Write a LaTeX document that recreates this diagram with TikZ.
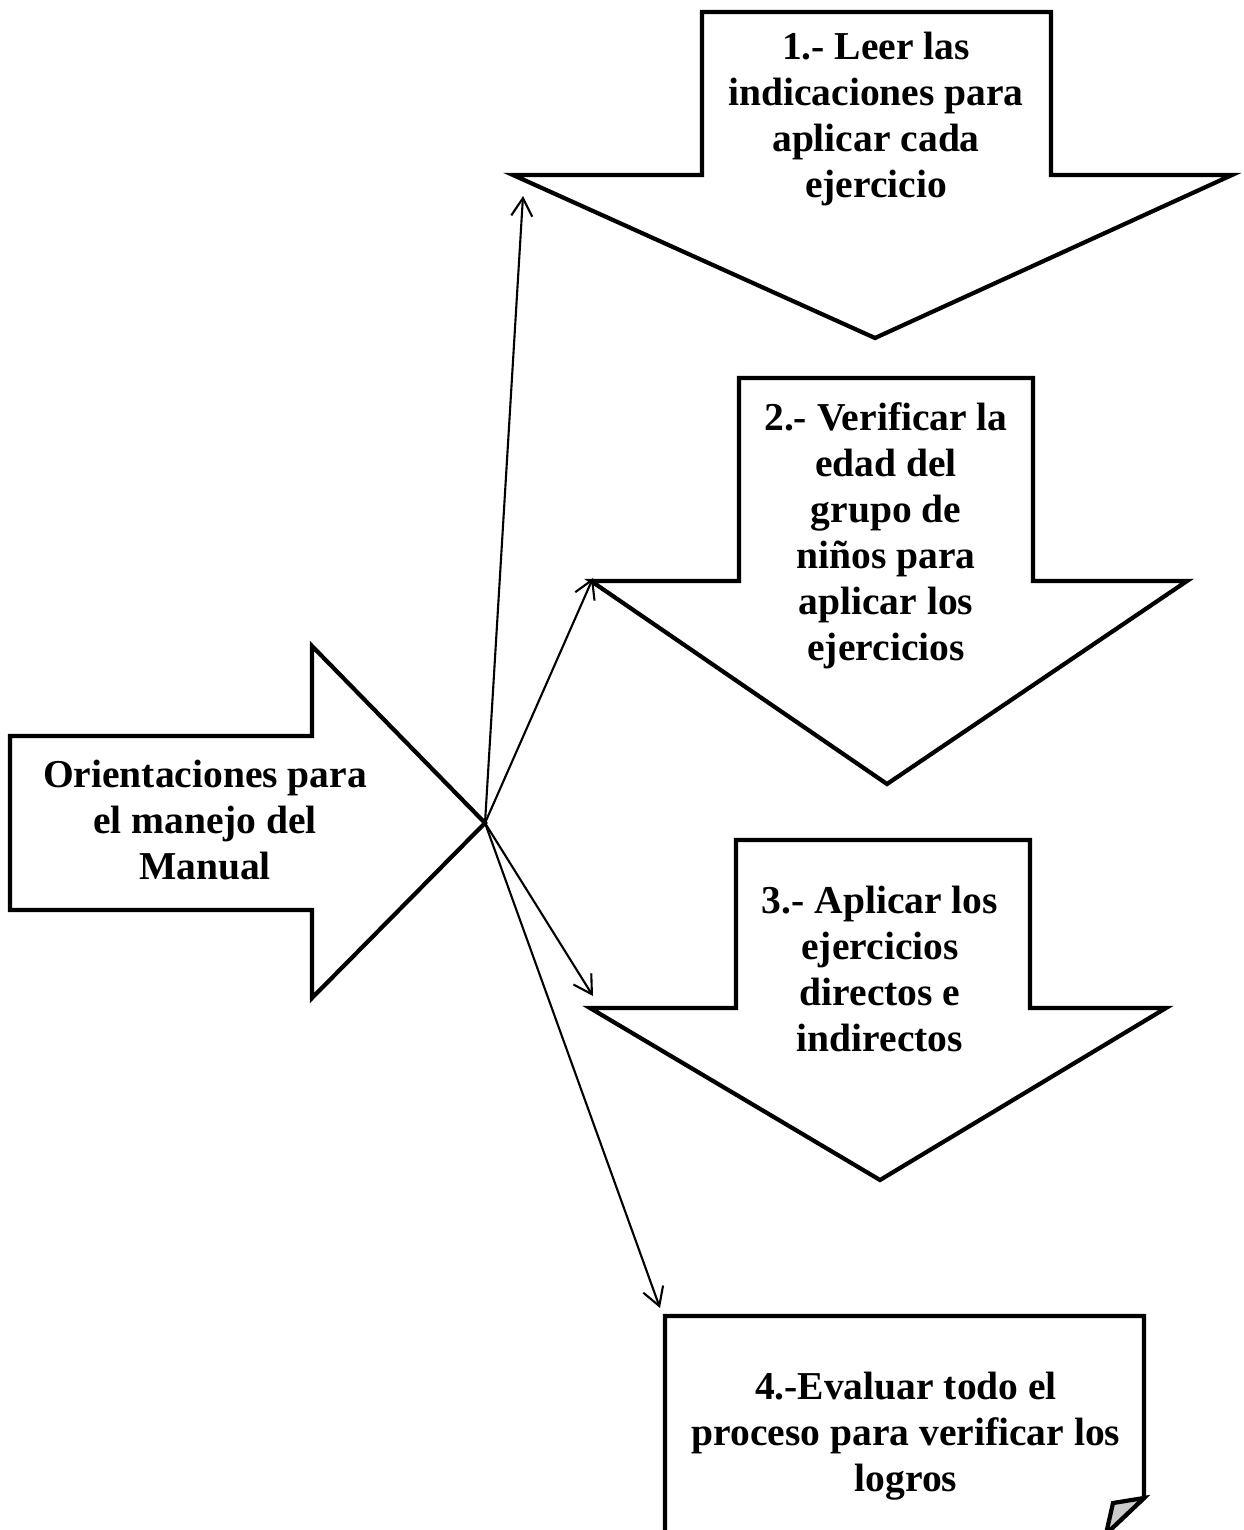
\documentclass[tikz,border=0pt]{standalone}
\usepackage{fontspec}
\setmainfont{Liberation Serif}
\usetikzlibrary{arrows.meta}
\tikzset{
  outline/.style={line width=2.4pt, line join=miter},
  label/.style={align=center, inner sep=0pt, font=\bfseries\fontsize{22.5pt}{26.2pt}\selectfont},
  conn/.style={line width=1.2pt, -{Straight Barb[length=0.36cm, width=0.42cm, line width=1.2pt]}}
}
\begin{document}
\begin{tikzpicture}[x=0.02cm, y=-0.02cm]
\clip (0,0) rectangle (1243,1530);
\fill[white] (0,0) rectangle (1243,1530);
% arrow 1 (down)
\draw[outline] (702,12) -- (1051,12) -- (1051,175) -- (1232,175) -- (875,338) -- (513,175) -- (702,175) -- cycle;
% arrow 2 (down)
\draw[outline] (739,378) -- (1033,378) -- (1033,581) -- (1187,581) -- (887,784) -- (591,581) -- (739,581) -- cycle;
% arrow 3 (down)
\draw[outline] (736,840) -- (1030,840) -- (1030,1008) -- (1166,1008) -- (880,1180) -- (590,1008) -- (736,1008) -- cycle;
% main arrow (right)
\draw[outline] (10,736) -- (312,736) -- (312,646) -- (485,823) -- (312,998) -- (312,910) -- (10,910) -- cycle;
% document with folded corner
\draw[outline] (665,1560) -- (665,1316) -- (1144,1316) -- (1144,1498) -- (1106,1534) -- (1080,1560);
\draw[outline, fill=black!20] (1113,1503) -- (1144,1498) -- (1106,1534) -- cycle;
% texts
\node[label] (t1) at (876,119) {1.- Leer las\\indicaciones para\\aplicar cada\\ejercicio};
\node[label] (t2) at (886,536) {2.- Verificar la\\edad del\\grupo de\\niños para\\aplicar los\\ejercicios};
\node[label] (t3) at (880,969) {3.- Aplicar los\\ejercicios\\directos e\\indirectos};
\node[label] (t4) at (906,1436) {4.-Evaluar todo el\\proceso para verificar los\\logros};
\node[label] (tm) at (205,820) {Orientaciones para\\el manejo del\\Manual};
% connector endpoints
\coordinate (src) at (485,823);
\coordinate (e1) at (523,196);
\coordinate (e2) at (593,578);
\coordinate (e3) at (593,996);
\coordinate (e4) at (660,1308);
\draw[conn] (src) -- (e1);
\draw[conn] (src) -- (e2);
\draw[conn] (src) -- (e3);
\draw[conn] (src) -- (e4);
\end{tikzpicture}
\end{document}
